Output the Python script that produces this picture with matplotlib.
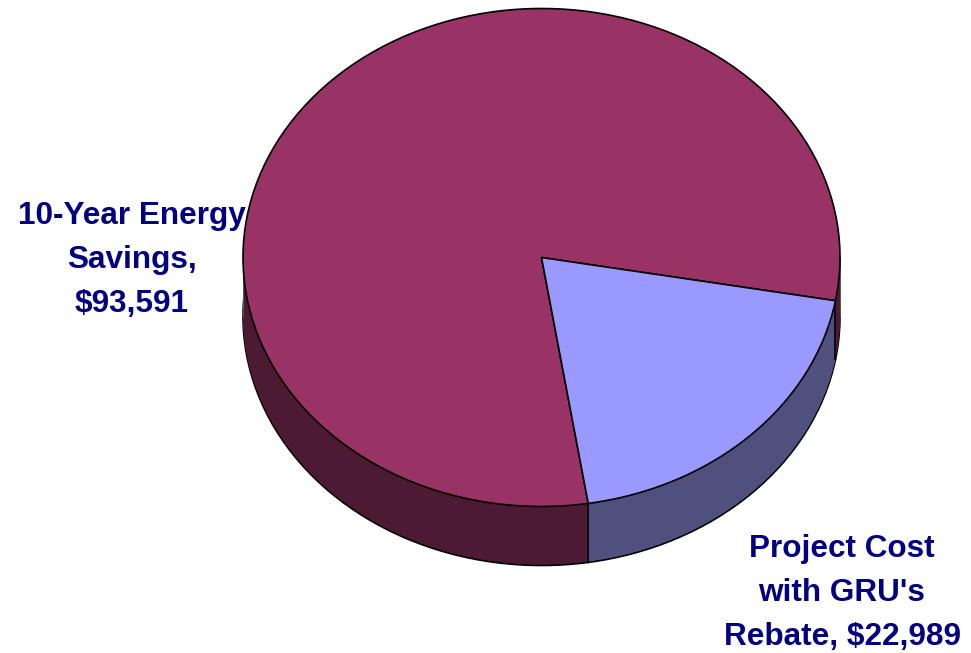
import numpy as np
import matplotlib
matplotlib.use("Agg")
import matplotlib.pyplot as plt

categories = ["10-Year Energy\nSavings,\n$93,591", "Project Cost\nwith GRU's\nRebate, $22,989"]
values = [93591, 22989]
top_colors = ["#993366", "#9999FF"]
side_colors = ["#4D1A33", "#50507F"]
START = -10.0
W, H = 971, 653
CX, CY, A, B = 541.5, 257.5, 298.5, 249
DEPTH = 59 / B

fig = plt.figure(figsize=(W / 100, H / 100), dpi=100, facecolor="white")
ax = fig.add_axes([0, 0, 1, 1])

# extruded side: bottom outline, then stacked layers, then the top face
ax.pie(values, colors=side_colors, startangle=START, center=(0, -DEPTH),
       wedgeprops=dict(edgecolor="black", linewidth=1.2))
for off in np.linspace(DEPTH - 0.005, 0.004, 90):
    ax.pie(values, colors=side_colors, startangle=START, center=(0, -off),
           wedgeprops=dict(edgecolor="none", linewidth=0))

# vertical edges of the extrusion
boundaries = START + np.cumsum([0] + values[:-1]) / sum(values) * 360
for ang in boundaries:
    x = np.cos(np.radians(ang))
    y = np.sin(np.radians(ang))
    ax.plot([x, x], [y, y - DEPTH], color="black", lw=1.2, zorder=5, solid_capstyle="butt")
for ang in [180.0, 0.0]:
    x = np.cos(np.radians(ang))
    ax.plot([x, x], [0, -DEPTH], color="#555555", lw=0.7, zorder=5, solid_capstyle="butt")

ax.pie(values, colors=top_colors, startangle=START,
       wedgeprops=dict(edgecolor="black", linewidth=1.2, zorder=6))

ax.set_aspect("auto")
ax.set_position([0, 0, 1, 1])
ax.set_xlim(-CX / A, (W - CX) / A)
ax.set_ylim((CY - H) / B, CY / B)
ax.axis("off")

label_pos = [(132, 260), (842, 593)]
for text, (px, py) in zip(categories, label_pos):
    fig.text(px / W, 1 - py / H, text, ha="center", va="center", color="#000080",
             fontsize=22.7, fontweight="bold", family="Liberation Sans",
             linespacing=1.6, zorder=10)

fig.savefig("out.png", dpi=100)
